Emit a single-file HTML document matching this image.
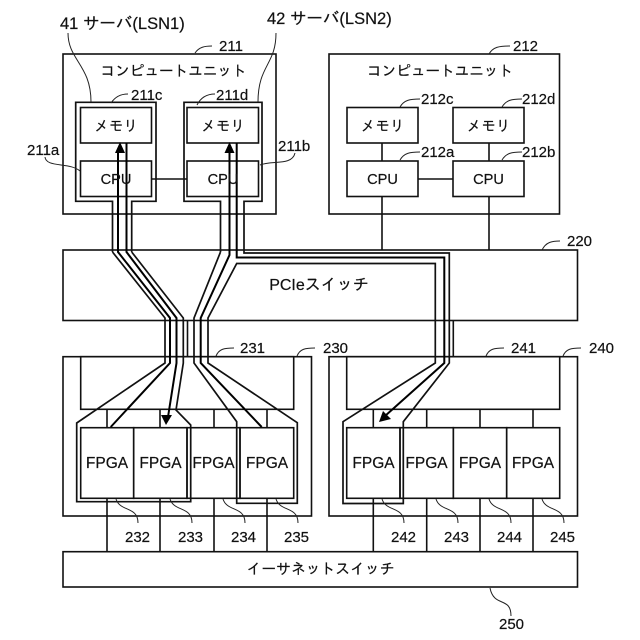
<!DOCTYPE html>
<html><head><meta charset="utf-8"><style>
html,body{margin:0;padding:0;background:#fff;width:640px;height:640px;overflow:hidden}
svg{display:block}
text{font-family:"Liberation Sans","IPAGothic","Noto Sans CJK JP",sans-serif;fill:#111;stroke:#111;stroke-width:.2}
.n{font-size:15px}
.h{font-size:16.500px}
.t{font-size:14.600px;text-anchor:middle}
.p{font-size:16px;text-anchor:middle}
.f{font-size:15.500px;text-anchor:middle}
.b rect,.b line{fill:none;stroke:#111;stroke-width:1.6}
.o path{fill:none;stroke:#111;stroke-width:1.7;stroke-linejoin:miter}
.a path{fill:none;stroke:#000;stroke-width:2}
.l path{fill:none;stroke:#222;stroke-width:1}
</style></head><body>
<svg width="640" height="640" viewBox="0 0 640 640" xmlns="http://www.w3.org/2000/svg">
<g class="b">
<rect x="63" y="54" width="213" height="160"/>
<rect x="329" y="54" width="230.500" height="160"/>
<rect x="80.500" y="107.500" width="71" height="35.500"/>
<rect x="80.500" y="161" width="71" height="35.500"/>
<rect x="187" y="107.500" width="71.500" height="35.500"/>
<rect x="187" y="161" width="71.500" height="35.500"/>
<line x1="151.500" y1="179" x2="187" y2="179"/>
<rect x="347" y="107.500" width="71" height="35.500"/>
<rect x="347" y="161" width="71" height="35.500"/>
<rect x="453" y="107.500" width="71" height="35.500"/>
<rect x="453" y="161" width="71" height="35.500"/>
<line x1="418" y1="179" x2="453" y2="179"/>
<line x1="382" y1="143" x2="382" y2="161"/>
<line x1="489" y1="143" x2="489" y2="161"/>
<line x1="382" y1="196.500" x2="382" y2="250"/>
<line x1="489" y1="196.500" x2="489" y2="250"/>
<rect x="63" y="250" width="514.500" height="70.500"/>
<line x1="187.500" y1="320.500" x2="187.500" y2="356.700"/>
<line x1="453.300" y1="320.500" x2="453.300" y2="356.700"/>
<rect x="63" y="356.700" width="248.500" height="159.300"/>
<rect x="329" y="356.700" width="248.500" height="159.300"/>
<rect x="80.700" y="356.700" width="213" height="52.600"/>
<rect x="346.700" y="356.700" width="213" height="52.600"/>
<rect x="80.700" y="427.700" width="53" height="70.600"/>
<rect x="133.700" y="427.700" width="53.300" height="70.600"/>
<rect x="187" y="427.700" width="53" height="70.600"/>
<rect x="240" y="427.700" width="53.700" height="70.600"/>
<rect x="346.700" y="427.700" width="53.300" height="70.600"/>
<rect x="400" y="427.700" width="53.300" height="70.600"/>
<rect x="453.300" y="427.700" width="53.400" height="70.600"/>
<rect x="506.700" y="427.700" width="53" height="70.600"/>
<rect x="63" y="551.700" width="514.500" height="35.300"/>
<line x1="107" y1="409.300" x2="107" y2="427.700"/><line x1="160" y1="409.300" x2="160" y2="427.700"/><line x1="214" y1="409.300" x2="214" y2="427.700"/><line x1="267" y1="409.300" x2="267" y2="427.700"/>
<line x1="373.300" y1="409.300" x2="373.300" y2="427.700"/><line x1="426.700" y1="409.300" x2="426.700" y2="427.700"/><line x1="480" y1="409.300" x2="480" y2="427.700"/><line x1="533" y1="409.300" x2="533" y2="427.700"/>
<line x1="107" y1="498.300" x2="107" y2="551.700"/><line x1="160" y1="498.300" x2="160" y2="551.700"/><line x1="214" y1="498.300" x2="214" y2="551.700"/><line x1="267" y1="498.300" x2="267" y2="551.700"/>
<line x1="373.300" y1="498.300" x2="373.300" y2="551.700"/><line x1="426.700" y1="498.300" x2="426.700" y2="551.700"/><line x1="480" y1="498.300" x2="480" y2="551.700"/><line x1="533" y1="498.300" x2="533" y2="551.700"/>
</g>
<g class="o">
<path d="M112.500 252V201.300H75.700V102.300H156V201.300H131.700V252"/>
<path d="M220.500 252V201.300H184V102.300H262V201.300H244V252"/>
<path d="M112.500 252L165 318V363L76.700 423V501.700H190.700V425L176 410L183.300 363V318L131.700 252"/>
<path d="M220.500 252L194 318V363L236.700 421.700V503.300H297.300V422.700L208 363V318L236.700 263.500H435.300V363L343 421.700V503.500H403.300V421.700L449.300 363V253H244V252"/>
</g>
<g class="a">
<path d="M118 150V252L170 318V363L110.700 427"/>
<path d="M126.500 143V252L176.500 318V363L168 417"/>
<path d="M229.500 150V255L200.700 318V363L261.700 427"/>
<path d="M236.700 143V257.500H444.300V363L385 416"/>
</g>
<path d="M120 142L115 153H125Z" fill="#000"/>
<path d="M229.500 142L224.500 153H234.500Z" fill="#000"/>
<path d="M166 425L161 415H172Z" fill="#000"/>
<path d="M379 422L383 411L391 419Z" fill="#000"/>
<g class="l">
<path d="M68 33C68 60 91 65 91 102"/>
<path d="M276 33C276 65 258 65 258 102"/>
<path d="M195 53C199 47 205 46 212 46"/>
<path d="M111 103C115 97 120 94 128 94"/>
<path d="M197 105C201 97 207 94 215 94"/>
<path d="M45 157C46 168 70 162 80 171"/>
<path d="M260 165C272 160 292 166 295 153"/>
<path d="M489 54C493 47 499 46 510 46"/>
<path d="M400 107C404 100 410 99 420 99"/>
<path d="M502 107C506 100 512 99 522 99"/>
<path d="M400 160C404 153 410 152 420 152"/>
<path d="M502 160C506 153 512 152 522 152"/>
<path d="M542 250C546 242 552 241 560 241"/>
<path d="M216 356C219 349 224 348 234 348"/>
<path d="M297 356C300 349 305 348 315 348"/>
<path d="M486 356C489 349 494 348 504 348"/>
<path d="M563 356C566 349 571 348 581 348"/>
<path d="M116 499C120 512 138 506 138 523"/>
<path d="M170 499C174 512 192 506 192 523"/>
<path d="M223 499C227 512 245 506 245 523"/>
<path d="M276 499C280 512 298 506 298 523"/>
<path d="M382 499C386 512 404 506 404 523"/>
<path d="M436 499C440 512 458 506 458 523"/>
<path d="M489 499C493 512 511 506 511 523"/>
<path d="M542 499C546 512 564 506 564 523"/>
<path d="M490 588C494 608 511 596 511 616"/>
</g>
<text class="h" x="60" y="29">41 サーバ(LSN1)</text>
<text class="h" x="267" y="24">42 サーバ(LSN2)</text>
<text class="n" x="219" y="51">211</text>
<text class="n" x="513" y="51">212</text>
<text class="t" x="173.500" y="76">コンピュートユニット</text>
<text class="t" x="440" y="76">コンピュートユニット</text>
<text class="n" x="131" y="100">211c</text>
<text class="n" x="216" y="100">211d</text>
<text class="n" x="421" y="104">212c</text>
<text class="n" x="522" y="104">212d</text>
<text class="n" x="27" y="155">211a</text>
<text class="n" x="278" y="151">211b</text>
<text class="n" x="421" y="157">212a</text>
<text class="n" x="522" y="157">212b</text>
<text class="t" x="116" y="131">メモリ</text>
<text class="t" x="223" y="131">メモリ</text>
<text class="t" x="382.500" y="131">メモリ</text>
<text class="t" x="488.500" y="131">メモリ</text>
<text class="t" x="116" y="184">CPU</text>
<text class="t" x="223" y="184">CPU</text>
<text class="t" x="382.500" y="184">CPU</text>
<text class="t" x="488.500" y="184">CPU</text>
<text class="n" x="567" y="246">220</text>
<text class="p" x="319" y="290">PCIeスイッチ</text>
<text class="n" x="240" y="353">231</text>
<text class="n" x="323" y="353">230</text>
<text class="n" x="511" y="353">241</text>
<text class="n" x="589" y="353">240</text>
<text class="f" x="107" y="468">FPGA</text>
<text class="f" x="160.500" y="468">FPGA</text>
<text class="f" x="213.500" y="468">FPGA</text>
<text class="f" x="267" y="468">FPGA</text>
<text class="f" x="373.500" y="468">FPGA</text>
<text class="f" x="426.500" y="468">FPGA</text>
<text class="f" x="480" y="468">FPGA</text>
<text class="f" x="533" y="468">FPGA</text>
<text class="n" x="125" y="542">232</text>
<text class="n" x="178" y="542">233</text>
<text class="n" x="231" y="542">234</text>
<text class="n" x="284" y="542">235</text>
<text class="n" x="391" y="542">242</text>
<text class="n" x="444" y="542">243</text>
<text class="n" x="497" y="542">244</text>
<text class="n" x="550" y="542">245</text>
<text class="t" x="320.500" y="574" style="font-size:14.800px">イーサネットスイッチ</text>
<text class="n" x="499" y="629">250</text>
</svg>
</body></html>
